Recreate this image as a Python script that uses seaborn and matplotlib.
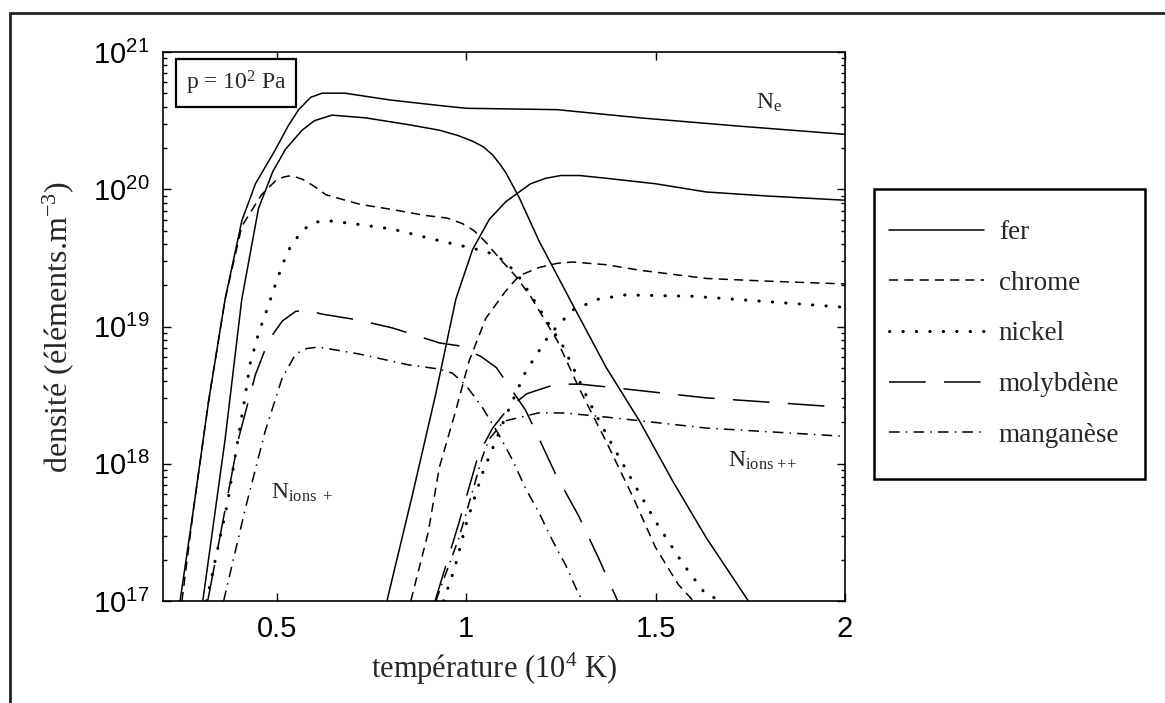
import numpy as np
import matplotlib
matplotlib.use("Agg")
import matplotlib.pyplot as plt
import seaborn as sns
from matplotlib.lines import Line2D
from matplotlib.patches import Rectangle
from matplotlib.ticker import LogLocator, NullFormatter

sns.set_style("ticks")
plt.rcParams["font.family"] = ["Liberation Serif", "DejaVu Serif"]
plt.rcParams["mathtext.fontset"] = "custom"
plt.rcParams["mathtext.rm"] = "Liberation Serif"
plt.rcParams["mathtext.it"] = "Liberation Serif:italic"
plt.rcParams["mathtext.sf"] = "Liberation Sans"

# temperature in 10^4 K, density read off the log axis as powers of ten (elements/m3)
ne_T = [0.245, 0.28, 0.32, 0.364, 0.408, 0.444, 0.497, 0.53, 0.558, 0.59, 0.62, 0.68, 0.80, 0.93, 1.0, 1.24, 1.46, 1.72, 2.0]
ne_exp = [17.0, 17.66, 18.45, 19.20, 19.77, 20.04, 20.29, 20.46, 20.58, 20.67, 20.70, 20.70, 20.65, 20.61, 20.59, 20.58, 20.52, 20.46, 20.40]

# singly ionised
fer1_T = [0.305, 0.364, 0.408, 0.452, 0.49, 0.523, 0.567, 0.60, 0.646, 0.735, 0.849, 0.93, 0.98, 1.017, 1.045, 1.07, 1.09, 1.105, 1.14, 1.193, 1.281, 1.37, 1.458, 1.546, 1.634, 1.745]
fer1_exp = [17.0, 18.18, 19.20, 19.86, 20.13, 20.29, 20.43, 20.50, 20.54, 20.52, 20.47, 20.43, 20.39, 20.35, 20.31, 20.25, 20.18, 20.12, 19.94, 19.62, 19.16, 18.70, 18.31, 17.87, 17.46, 17.0]

chrome1_T = [0.25, 0.28, 0.32, 0.364, 0.408, 0.46, 0.50, 0.52, 0.54, 0.57, 0.60, 0.63, 0.72, 0.81, 0.89, 0.95, 0.99, 1.02, 1.05, 1.09, 1.13, 1.17, 1.24, 1.30, 1.37, 1.44, 1.50, 1.56, 1.60]
chrome1_exp = [17.0, 17.66, 18.45, 19.20, 19.73, 19.96, 20.07, 20.09, 20.10, 20.07, 20.02, 19.96, 19.89, 19.85, 19.81, 19.79, 19.75, 19.70, 19.62, 19.49, 19.37, 19.22, 18.90, 18.54, 18.16, 17.76, 17.39, 17.12, 17.0]

nickel1_T = [0.315, 0.37, 0.416, 0.43, 0.452, 0.474, 0.496, 0.514, 0.532, 0.567, 0.60, 0.637, 0.70, 0.805, 0.937, 1.017, 1.07, 1.105, 1.14, 1.175, 1.22, 1.255, 1.281, 1.325, 1.387, 1.44, 1.50, 1.57, 1.632, 1.676]
nickel1_exp = [17.0, 17.71, 18.48, 18.73, 18.95, 19.12, 19.30, 19.44, 19.56, 19.70, 19.76, 19.77, 19.75, 19.71, 19.62, 19.57, 19.53, 19.47, 19.36, 19.21, 19.01, 18.86, 18.71, 18.45, 18.13, 17.87, 17.58, 17.28, 17.05, 17.0]

molyb1_T = [0.318, 0.36, 0.40, 0.444, 0.479, 0.515, 0.55, 0.58, 0.62, 0.71, 0.805, 0.93, 0.98, 1.04, 1.08, 1.12, 1.157, 1.193, 1.237, 1.297, 1.35, 1.40]
molyb1_exp = [17.0, 17.61, 18.19, 18.65, 18.90, 19.04, 19.11, 19.12, 19.09, 19.05, 18.99, 18.88, 18.86, 18.78, 18.70, 18.54, 18.39, 18.18, 17.92, 17.62, 17.31, 17.0]

mangan1_T = [0.36, 0.417, 0.47, 0.514, 0.55, 0.58, 0.611, 0.717, 0.849, 0.929, 0.964, 1.0, 1.043, 1.087, 1.122, 1.157, 1.193, 1.228, 1.263, 1.297, 1.31]
mangan1_exp = [17.0, 17.67, 18.24, 18.62, 18.80, 18.84, 18.85, 18.80, 18.72, 18.69, 18.66, 18.57, 18.41, 18.21, 18.03, 17.82, 17.64, 17.44, 17.26, 17.05, 17.0]

# doubly ionised
fer2_T = [0.791, 0.858, 0.92, 0.973, 1.017, 1.061, 1.105, 1.14, 1.17, 1.21, 1.25, 1.30, 1.37, 1.50, 1.634, 1.80, 2.0]
fer2_exp = [17.0, 17.77, 18.51, 19.20, 19.56, 19.78, 19.91, 19.98, 20.04, 20.08, 20.10, 20.10, 20.08, 20.04, 19.98, 19.95, 19.92]

chrome2_T = [0.854, 0.90, 0.929, 0.973, 1.008, 1.052, 1.105, 1.14, 1.193, 1.24, 1.281, 1.37, 1.458, 1.634, 1.80, 2.0]
chrome2_exp = [17.0, 17.5, 17.97, 18.39, 18.75, 19.06, 19.26, 19.37, 19.43, 19.46, 19.47, 19.45, 19.41, 19.35, 19.33, 19.31]

nickel2_T = [0.94, 0.97, 1.0, 1.043, 1.105, 1.157, 1.22, 1.281, 1.35, 1.42, 1.6, 1.8, 2.0]
nickel2_exp = [17.0, 17.24, 17.56, 17.93, 18.35, 18.67, 18.94, 19.12, 19.20, 19.23, 19.22, 19.18, 19.14]

molyb2_T = [0.918, 0.98, 1.033, 1.07, 1.11, 1.16, 1.237, 1.30, 1.37, 1.634, 2.0]
molyb2_exp = [17.0, 17.56, 18.07, 18.26, 18.40, 18.51, 18.58, 18.58, 18.56, 18.48, 18.41]

mangan2_T = [0.92, 0.981, 1.017, 1.043, 1.061, 1.10, 1.19, 1.26, 1.37, 1.634, 2.0]
mangan2_exp = [17.0, 17.46, 17.80, 18.05, 18.18, 18.31, 18.37, 18.37, 18.34, 18.26, 18.20]

elements = ["fer", "chrome", "nickel", "molybdène", "manganèse"]
dash_styles = {
    "fer": "-",
    "chrome": (0, (6, 4)),
    "nickel": (0, (0.1, 4.3)),
    "molybdène": (0, (24, 12)),
    "manganèse": (0, (7, 4, 1, 4)),
}
curves = [
    (ne_T, ne_exp, "fer"),
    (fer1_T, fer1_exp, "fer"), (chrome1_T, chrome1_exp, "chrome"),
    (nickel1_T, nickel1_exp, "nickel"), (molyb1_T, molyb1_exp, "molybdène"),
    (mangan1_T, mangan1_exp, "manganèse"),
    (fer2_T, fer2_exp, "fer"), (chrome2_T, chrome2_exp, "chrome"),
    (nickel2_T, nickel2_exp, "nickel"), (molyb2_T, molyb2_exp, "molybdène"),
    (mangan2_T, mangan2_exp, "manganèse"),
]


def line_kw(el):
    kw = dict(color="black", linestyle=dash_styles[el], linewidth=1.1)
    if el == "nickel":
        kw.update(linewidth=2.2, dash_capstyle="round")
    return kw


fig = plt.figure(figsize=(11.65, 7.03), dpi=100)
ax = fig.add_axes([163 / 1165, 1 - 601 / 703, 682 / 1165, 549 / 703])

for T, ex, el in curves:
    sns.lineplot(x=T, y=np.power(10.0, ex), ax=ax, estimator=None, sort=False,
                 legend=False, **line_kw(el))

ax.set_yscale("log")
ax.set_xlim(0.2, 2.0)
ax.set_ylim(1e17, 1e21)

ax.set_xticks([0.5, 1.0, 1.5, 2.0])
ax.set_xticklabels(["0.5", "1", "1.5", "2"], fontfamily="Liberation Sans", fontsize=21)
ax.set_yticks([1e17, 1e18, 1e19, 1e20, 1e21])
ax.set_yticklabels([r"$\mathsf{10^{%d}}$" % k for k in range(17, 22)], fontsize=21)
ax.yaxis.set_minor_locator(LogLocator(base=10, subs=np.arange(2, 10)))
ax.yaxis.set_minor_formatter(NullFormatter())
ax.tick_params(which="both", direction="in", top=True, right=True, width=1, colors="black")
ax.tick_params(which="major", length=6, pad=10)
ax.tick_params(which="minor", length=3)
for s in ax.spines.values():
    s.set_linewidth(1.2)
    s.set_color("black")

ax.set_xlabel("température (10$^4$ K)", fontsize=22)
ax.set_ylabel("densité (éléments.m$^{-3}$)", fontsize=23)
ax.xaxis.set_label_coords(0.485, -0.09)
ax.yaxis.set_label_coords(-0.128, 0.5)

ax.text(1.765, 10 ** 20.63, r"N$_\mathrm{e}$", fontsize=17, va="center")
ax.text(0.485, 10 ** 17.79, r"N$_{\mathrm{ions\ +}}$", fontsize=17, va="center")
ax.text(1.69, 10 ** 18.02, r"N$_{\mathrm{ions\ {+}{+}}}$", fontsize=17, va="center")
ax.text(0.107, 0.9435, r"p = 10$^2$ Pa", transform=ax.transAxes, fontsize=17,
        ha="center", va="center",
        bbox=dict(boxstyle="square,pad=0.4", fc="white", ec="black", lw=1.6))

handles = [Line2D([], [], **line_kw(el)) for el in elements]
fig.legend(handles, elements, loc="upper left", bbox_to_anchor=(889 / 1165, 1 - 220 / 703),
           frameon=False, fontsize=19.5, borderpad=0, handlelength=3.5, handletextpad=0.55,
           labelspacing=0.95, borderaxespad=0)
fig.add_artist(Rectangle((874 / 1165, 1 - 479 / 703), 271 / 1165, 290 / 703,
                         transform=fig.transFigure, fill=False, ec="black", lw=1.8))
# outer frame of the scanned figure
fig.add_artist(Rectangle((10 / 1165, -0.1), 1.2, 1.1 - 13 / 703,
                         transform=fig.transFigure, fill=False, ec="#222222", lw=2))

fig.savefig("out.png", dpi=100)
